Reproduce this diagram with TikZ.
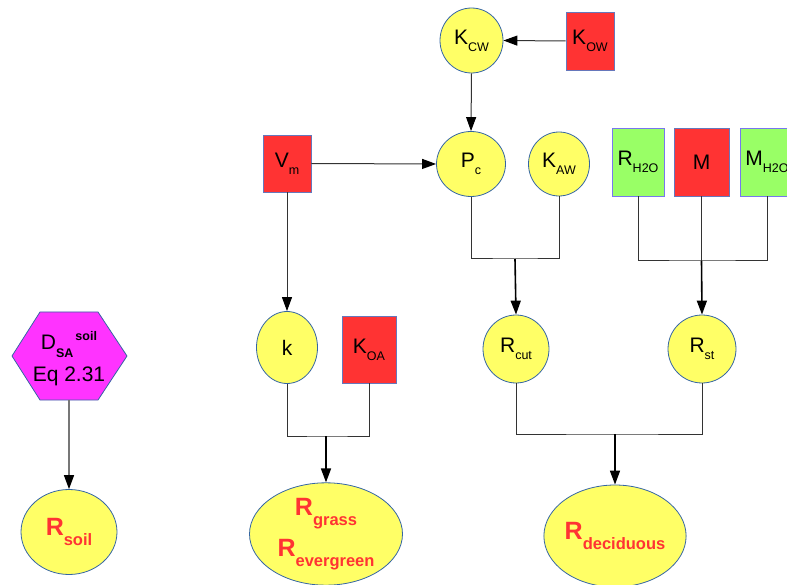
\documentclass[tikz,border=0pt]{standalone}
\usepackage{fontspec}
\setmainfont{Liberation Sans}
\usetikzlibrary{arrows.meta,shapes.geometric}
\definecolor{yellowf}{HTML}{FFFF66}
\definecolor{redf}{HTML}{FF3333}
\definecolor{grnf}{HTML}{99FF66}
\definecolor{magf}{HTML}{FF33FF}
\definecolor{ebord}{HTML}{3465A4}
\definecolor{rbord}{HTML}{6677BB}
\definecolor{gbord}{HTML}{7777EE}
\definecolor{lcol}{HTML}{333333}
\definecolor{hcol}{HTML}{777777}
\definecolor{redt}{HTML}{FF3333}
\newcommand\sbs[1]{\raisebox{-7pt}{\fontsize{12.5}{14}\selectfont #1}}
\newcommand\rsb[1]{\raisebox{-10pt}{\fontsize{16.5}{18}\selectfont\bfseries #1}}
\newcommand\redlab[2]{{\fontsize{25}{30}\selectfont\bfseries\color{redt}#1\rsb{#2}}}
\begin{document}
\begin{tikzpicture}[x=1pt,y=-1pt,
  every node/.style={font=\fontsize{21}{24}\selectfont, inner sep=0pt},
  yel/.style={ellipse, draw=ebord, fill=yellowf, line width=0.8pt},
  box/.style={rectangle, draw=rbord, line width=0.8pt},
  redbox/.style={box, fill=redf},
  grnbox/.style={box, fill=grnf, draw=gbord},
  conn/.style={draw=lcol, line width=1pt},
  arr/.style={conn, -{Triangle[length=14pt,width=10pt,fill=black,color=black]}},
  jarr/.style={arr, draw=black, line width=1.6pt}]
\useasboundingbox (0,0) rectangle (787,585);
\clip (0,0) rectangle (787,585);
% top row
\node[yel, minimum width=63, minimum height=65] (kcw) at (471.5,40.5) {K\sbs{CW}};
\node[redbox, minimum width=48, minimum height=58] (kow) at (590,41) {K\sbs{OW}};
\node[yel, minimum width=69, minimum height=65] (pc) at (471,164) {P\sbs{c}};
\node[yel, minimum width=61, minimum height=64] (kaw) at (559,164) {K\sbs{AW}};
\node[redbox, minimum width=48, minimum height=57] (vm) at (287,163.5) {V\sbs{m}};
\node[grnbox, minimum width=52, minimum height=68] (rh2o) at (638,162) {R\sbs{H2O}};
\node[redbox, minimum width=55, minimum height=68] (m) at (701.5,162) {M};
\node[grnbox, minimum width=54, minimum height=68] (mh2o) at (767,162) {M\sbs{H2O}};
% middle row
\node[yel, minimum width=61, minimum height=72] (k) at (287,347.5) {k};
\node[redbox, minimum width=54, minimum height=67] (koa) at (369,349.5) {K\sbs{OA}};
\node[yel, minimum width=66, minimum height=68] (rcut) at (516,349) {R\sbs{cut}};
\node[yel, minimum width=68, minimum height=68] (rst) at (702,349) {R\sbs{st}};
% hexagon
\draw[draw=ebord, fill=magf, line width=0.8pt] (12,356) -- (40,312) -- (98,312) -- (127,356) -- (98,400) -- (40,400) -- cycle;
\node[align=center, font=\fontsize{21}{32}\selectfont] (dsa) at (69,359) {D\raisebox{-8pt}{\fontsize{12.5}{14}\selectfont\bfseries SA}\hspace{2pt}\raisebox{9pt}{\fontsize{12.5}{14}\selectfont\bfseries soil}\\Eq 2.31};
\coordinate (dsab) at (69,400);
% bottom row
\node[yel, minimum width=96, minimum height=85] (rsoil) at (69,532) {\redlab{R}{soil}};
\node[yel, minimum width=153, minimum height=92, align=center] (rgr) at (326,534) {\redlab{R}{grass}\\[10pt]\redlab{R}{evergreen}};
\node[yel, minimum width=118, minimum height=102] (rdec) at (615,536) {\redlab{R}{deciduous}};
% junctions
\coordinate (j1) at (515,259);
\coordinate (j2) at (701.5,261);
\coordinate (j3) at (615,434);
\coordinate (j4) at (326,436);
% connectors
\draw[arr] (kow.west) -- (kcw.east);
\draw[arr] (kcw.south) -- (pc.north);
\draw[arr] (vm.east) -- (pc.west);
\draw[arr] (vm.south) -- (k.north);
\draw[conn] (pc.south) |- (j1) -| (kaw.south);
\draw[jarr] (j1) -- (rcut.north);
\draw[conn] (rh2o.south) |- (j2) -| (mh2o.south);
\draw[conn] (m.south) -- (j2);
\draw[jarr] (j2) -- (rst.north);
\draw[conn] (rcut.south) |- (j3) -| (rst.south);
\draw[jarr] (j3) -- (rdec.north);
\draw[conn] (k.south) |- (j4) -| (koa.south);
\draw[jarr] (j4) -- (rgr.north);
\draw[arr, draw=hcol, line width=1.5pt] (dsab) -- (rsoil.north);
\end{tikzpicture}
\end{document}
